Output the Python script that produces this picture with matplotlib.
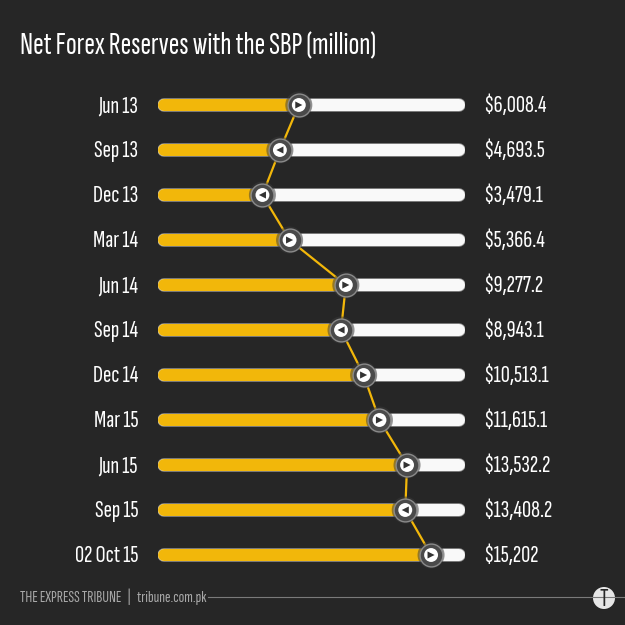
import matplotlib as mpl
import matplotlib.pyplot as plt
from matplotlib.patches import Circle

periods = ["Jun 13", "Sep 13", "Dec 13", "Mar 14", "Jun 14", "Sep 14",
           "Dec 14", "Mar 15", "Jun 15", "Sep 15", "02 Oct 15"]
reserves = [6008.4, 4693.5, 3479.1, 5366.4, 9277.2, 8943.1,
            10513.1, 11615.1, 13532.2, 13408.2, 15202]
value_labels = ["$6,008.4", "$4,693.5", "$3,479.1", "$5,366.4", "$9,277.2", "$8,943.1",
                "$10,513.1", "$11,615.1", "$13,532.2", "$13,408.2", "$15,202"]

bg = "#262626"
yellow = "#f2b70a"
fonts = ["Sofia Sans Extra Condensed", "Pathway Gothic One", "DejaVu Sans"]

fig = plt.figure(figsize=(6.25, 6.25), dpi=100, facecolor=bg)
ax = fig.add_axes([158 / 625, 1 - 577.5 / 625, 307 / 625, 495 / 625])
ax.set_facecolor(bg)
ax.axis("off")

x_lo, x_hi = -3780, 17560
ax.set_xlim(x_lo, x_hi)
ax.set_ylim(len(periods) - 0.5, -0.5)
cap = 6 / 307 * (x_hi - x_lo)  # half track width in data units
track_lw = 12 * 0.72

for i, (p, v, lab) in enumerate(zip(periods, reserves, value_labels)):
    # white track with a soft grey rim
    ax.plot([x_lo + cap, x_hi - cap], [i + 0.01, i + 0.01], color="#8c8c8c",
            lw=track_lw + 1.2, solid_capstyle="round", zorder=1)
    ax.plot([x_lo + cap, x_hi - cap], [i, i], color="#f9f9f9",
            lw=track_lw, solid_capstyle="round", zorder=2)
    ax.plot([x_lo + cap, v], [i, i], color=yellow,
            lw=track_lw, solid_capstyle="round", zorder=3)
    ax.text(-0.065, i + 0.03, p, transform=ax.get_yaxis_transform(), ha="right", va="center",
            color="white", fontsize=18, fontweight="semibold", family=fonts)
    ax.text(1.0586, i + 0.03, lab, transform=ax.get_yaxis_transform(), ha="left", va="center",
            color="white", fontsize=18, fontweight="semibold", family=fonts)

rows = list(range(len(periods)))
ax.plot(reserves, rows, color=yellow, lw=1.6, zorder=4)

# slider knobs
ax.scatter(reserves, rows, s=380, color="#3a3a3a", edgecolor="none", alpha=0.5, zorder=5)
ax.scatter(reserves, rows, s=270, color="#4a4a4a", edgecolor="#8a8a8a", lw=1.0, zorder=6)
ax.scatter(reserves, rows, s=100, color="white", edgecolor="none", zorder=7)
for i, v in enumerate(reserves):
    m = ">" if i == 0 or v >= reserves[i - 1] else "<"
    ax.scatter([v], [i], s=26, marker=m, color="#333333", edgecolor="none", zorder=8)

fig.text(20 / 625, 1 - 54 / 625, "Net Forex Reserves with the SBP (million)",
         color="white", fontsize=23, fontweight="medium", family=fonts, va="baseline")

# footer
fig.text(20 / 625, 1 - 597 / 625, "THE EXPRESS TRIBUNE   |   tribune.com.pk",
         color="#a8a8a8", fontsize=12, family=fonts, va="center")
fig.add_artist(mpl.lines.Line2D([208 / 625, 1], [1 - 597 / 625, 1 - 597 / 625],
                                color="#7a7a7a", lw=0.8))
logo = Circle((604 / 625, 1 - 598 / 625), 11 / 625, transform=fig.transFigure,
              facecolor="#e6e6e6", edgecolor="none")
fig.add_artist(logo)
fig.text(604 / 625, 1 - 599 / 625, "T", color="#262626", fontsize=19,
         fontweight="bold", family=fonts, ha="center", va="center")

plt.savefig("out.png", dpi=100, facecolor=bg)
